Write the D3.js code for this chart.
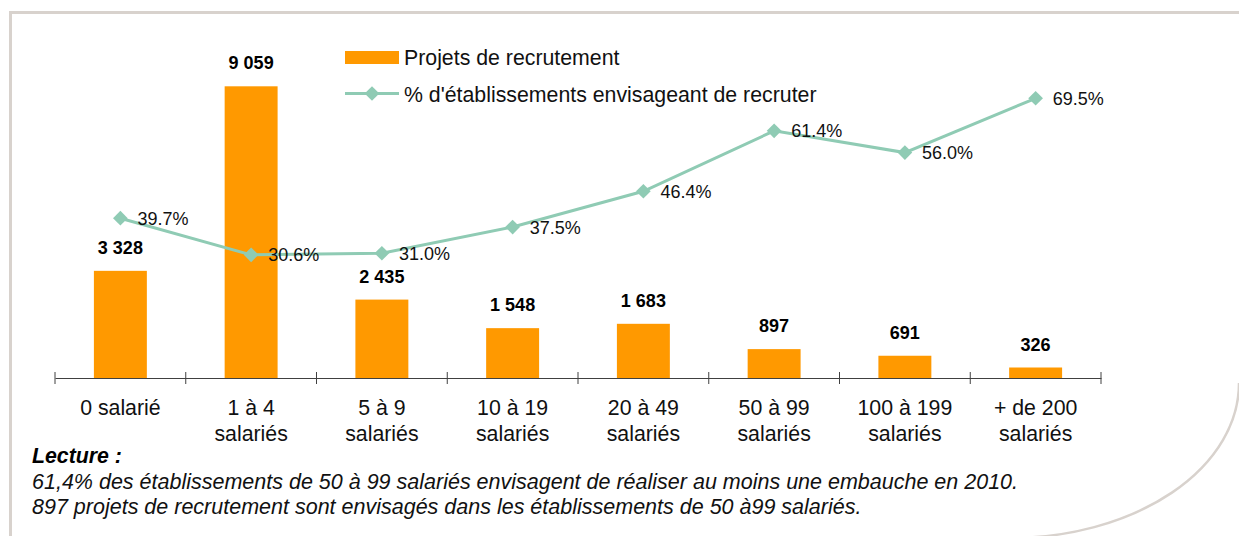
<!DOCTYPE html>
<html>
<head>
<meta charset="utf-8">
<script src="https://cdn.jsdelivr.net/npm/d3@7"></script>
<style>
  body { margin: 0; background: #fff; }
  svg { display: block; font-family: "Liberation Sans", Arial, sans-serif; }
</style>
</head>
<body>
<div id="container"></div>
<script>
// data
const categories = ["0 salarié", "1 à 4 salariés", "5 à 9 salariés", "10 à 19 salariés",
  "20 à 49 salariés", "50 à 99 salariés", "100 à 199 salariés", "+ de 200 salariés"];
const categoryLines = [["0 salarié"], ["1 à 4", "salariés"], ["5 à 9", "salariés"], ["10 à 19", "salariés"],
  ["20 à 49", "salariés"], ["50 à 99", "salariés"], ["100 à 199", "salariés"], ["+ de 200", "salariés"]];
const projets = [3328, 9059, 2435, 1548, 1683, 897, 691, 326];
const pctEtab = [39.7, 30.6, 31.0, 37.5, 46.4, 61.4, 56.0, 69.5];
const legendLabels = ["Projets de recrutement", "% d'établissements envisageant de recruter"];
const lectureLines = [
  "61,4% des établissements de 50 à 99 salariés envisagent de réaliser au moins une embauche en 2010.",
  "897 projets de recrutement sont envisagés dans les établissements de 50 à99 salariés."
];

const width = 1239, height = 536;
const barColor = "#ff9900", lineColor = "#8fcbb4", frameColor = "#d8d2cd";
const axisY = 378;
const bigFont = "21.3px";

const svg = d3.select("#container").append("svg")
  .attr("width", width)
  .attr("height", height);

// page frame + curl
svg.append("path")
  .attr("d", "M10.5,540 L10.5,12.5 L1245,12.5")
  .attr("fill", "none")
  .attr("stroke", frameColor)
  .attr("stroke-width", 3);
svg.append("path")
  .attr("d", "M1239,383 A229,155 0 0,1 1010,538")
  .attr("fill", "none")
  .attr("stroke", frameColor)
  .attr("stroke-width", 2.5);

const x = d3.scaleBand()
  .domain(categories)
  .range([55, 1101])
  .padding(0);
const barW = x.bandwidth() * 0.405;

const y = d3.scaleLinear().domain([0, 10000]).range([axisY, 56]);
const y2 = d3.scaleLinear().domain([0, 80]).range([axisY, 56]);

const fmtNum = d3.formatLocale({ decimal: ",", thousands: " ", grouping: [3], currency: ["", ""] }).format(",d");
const fmtPct = d => d3.format(".1f")(d) + "%";

// bars
svg.selectAll(".bar")
  .data(projets)
  .enter()
  .append("rect")
  .attr("class", "bar")
  .attr("x", (d, i) => x(categories[i]) + (x.bandwidth() - barW) / 2)
  .attr("y", d => y(d))
  .attr("width", barW)
  .attr("height", d => axisY - y(d))
  .attr("fill", barColor);

svg.selectAll(".bar-label")
  .data(projets)
  .enter()
  .append("text")
  .attr("class", "bar-label")
  .attr("x", (d, i) => x(categories[i]) + x.bandwidth() / 2)
  .attr("y", d => y(d) - 17)
  .attr("text-anchor", "middle")
  .style("font-size", "18px")
  .style("font-weight", "bold")
  .attr("fill", "#000")
  .text(d => fmtNum(d));

// x axis
svg.append("g")
  .attr("class", "x-axis")
  .attr("transform", `translate(0,${axisY})`)
  .call(d3.axisBottom(x).tickSize(0).tickSizeOuter(0).tickFormat(""))
  .call(g => g.select(".domain").attr("stroke", "#404040"));

const boundaries = categories.map(c => x(c)).concat([x.range()[1]]);
svg.append("g")
  .selectAll("line")
  .data(boundaries)
  .enter()
  .append("line")
  .attr("x1", d => d).attr("x2", d => d)
  .attr("y1", axisY - 6).attr("y2", axisY + 6)
  .attr("stroke", "#404040");

const catText = svg.append("g")
  .selectAll("text")
  .data(categoryLines)
  .enter()
  .append("text")
  .attr("text-anchor", "middle")
  .style("font-size", bigFont)
  .attr("fill", "#111");
catText.each(function (lines, i) {
  const cx = x(categories[i]) + x.bandwidth() / 2;
  d3.select(this).selectAll("tspan")
    .data(lines)
    .enter()
    .append("tspan")
    .attr("x", cx)
    .attr("y", (l, j) => 415 + j * 25.5)
    .text(l => l);
});

// line
const line = d3.line()
  .x((d, i) => x(categories[i]) + x.bandwidth() / 2)
  .y(d => y2(d));

svg.append("path")
  .datum(pctEtab)
  .attr("fill", "none")
  .attr("stroke", lineColor)
  .attr("stroke-width", 3)
  .attr("d", line);

const diamond = d3.symbol().type(d3.symbolSquare).size(108);
svg.selectAll(".pt")
  .data(pctEtab)
  .enter()
  .append("path")
  .attr("class", "pt")
  .attr("d", diamond)
  .attr("transform", (d, i) => `translate(${x(categories[i]) + x.bandwidth() / 2},${y2(d)}) rotate(45)`)
  .attr("fill", lineColor);

svg.selectAll(".pt-label")
  .data(pctEtab)
  .enter()
  .append("text")
  .attr("class", "pt-label")
  .attr("x", (d, i) => x(categories[i]) + x.bandwidth() / 2 + 17)
  .attr("y", d => y2(d) + 6.5)
  .style("font-size", "18px")
  .attr("fill", "#111")
  .text(d => fmtPct(d));

// legend
const legend = svg.append("g").attr("class", "legend");
legend.append("rect")
  .attr("x", 345).attr("y", 51)
  .attr("width", 54).attr("height", 13)
  .attr("fill", barColor);
legend.append("line")
  .attr("x1", 345).attr("x2", 399)
  .attr("y1", 93.5).attr("y2", 93.5)
  .attr("stroke", lineColor)
  .attr("stroke-width", 3);
legend.append("path")
  .attr("d", diamond)
  .attr("transform", "translate(372,93.5) rotate(45)")
  .attr("fill", lineColor);
legend.selectAll("text")
  .data(legendLabels)
  .enter()
  .append("text")
  .attr("x", 404)
  .attr("y", (d, i) => 65 + i * 36.5)
  .style("font-size", bigFont)
  .attr("fill", "#111")
  .text(d => d);

// lecture note
svg.append("text")
  .attr("x", 32).attr("y", 463)
  .style("font-size", bigFont)
  .style("font-weight", "bold")
  .style("font-style", "italic")
  .attr("fill", "#000")
  .text("Lecture :");
svg.append("g")
  .selectAll("text")
  .data(lectureLines)
  .enter()
  .append("text")
  .attr("x", 32)
  .attr("y", (d, i) => 489 + i * 25)
  .style("font-size", "21.5px")
  .style("font-style", "italic")
  .attr("fill", "#111")
  .text(d => d);
</script>
</body>
</html>
